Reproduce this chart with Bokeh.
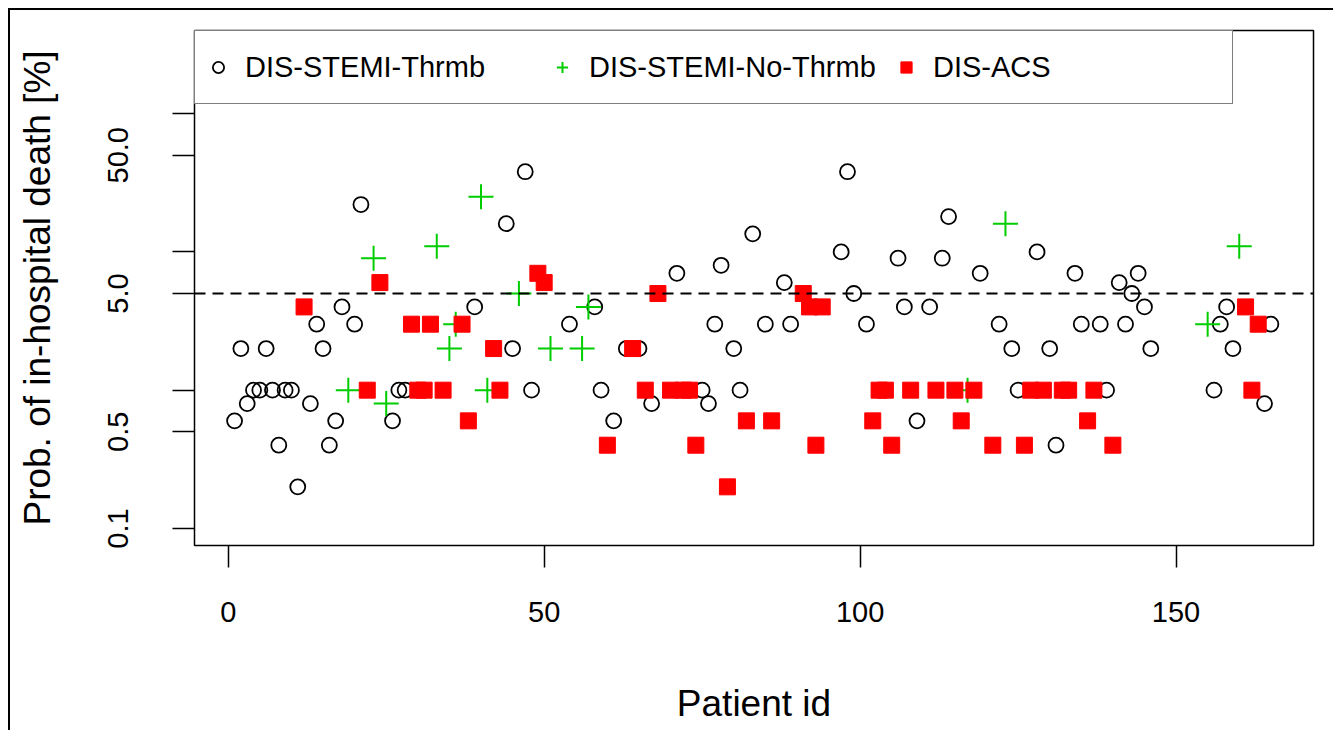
from bokeh.plotting import figure
from bokeh.models import FixedTicker, Span, Legend, LegendItem, Range1d
from bokeh.embed import file_html
from bokeh.resources import INLINE

# DIS-STEMI-Thrmb (open circles)
thr_id = [1, 2, 3, 4, 5, 6, 7, 8, 9, 10, 11, 13, 14, 15, 16, 17, 18, 20, 21, 26, 27, 28,
          39, 44, 45, 47, 48, 54, 58, 59, 61, 63, 65, 67, 71, 75, 76, 77, 78, 80, 81, 83,
          85, 88, 89, 97, 98, 99, 101, 106, 107, 109, 111, 113, 114, 119, 122, 124, 125,
          128, 130, 131, 134, 135, 138, 139, 141, 142, 143, 144, 145, 146, 156, 157, 158,
          159, 164, 165]
thr_val = [0.6, 2, 0.8, 1, 1, 2, 1, 0.4, 1, 1, 0.2, 0.8, 3, 2, 0.4, 0.6, 4, 3, 22, 0.6, 1, 1,
           4, 16, 2, 38, 1, 3, 4, 1, 0.6, 2, 2, 0.8, 7, 1, 0.8, 3, 8, 2, 1, 13.5,
           3, 6, 3, 10, 38, 5, 3, 9, 4, 0.6, 4, 9, 18, 7, 3, 2, 1,
           10, 2, 0.4, 7, 3, 3, 1, 6, 3, 5, 7, 4, 2, 1, 3, 4,
           2, 0.8, 3]

# DIS-STEMI-No-Thrmb (green crosses)
nothr_id = [19, 23, 25, 33, 35, 36, 40, 41, 46, 51, 56, 57, 117, 123, 155, 160]
nothr_val = [1, 9, 0.8, 11, 2, 3, 25, 1, 5, 2, 2, 4, 1, 16, 3, 11]

# DIS-ACS (red squares)
acs_id = [12, 22, 24, 29, 30, 31, 32, 34, 37, 38, 42, 43, 49, 50, 60, 64, 66, 68, 70, 72,
          73, 74, 79, 82, 86, 91, 92, 93, 94, 102, 103, 104, 105, 108, 112, 115, 116, 118,
          121, 126, 127, 129, 132, 133, 136, 137, 140, 161, 162, 163]
acs_val = [4, 1, 6, 3, 1, 1, 3, 1, 3, 0.6, 2, 1, 7, 6, 0.4, 2, 1, 5, 1, 1,
           1, 0.4, 0.2, 0.6, 0.6, 5, 4, 0.4, 4, 0.6, 1, 1, 0.4, 1, 1, 1, 0.6, 1,
           0.4, 0.4, 1, 1, 1, 1, 0.6, 1, 0.4, 4, 1, 3]

x_ticks = [0, 50, 100, 150]
y_ticks = [0.1, 0.5, 1, 5, 10, 50, 100]
y_labels = {0.1: "0.1", 0.5: "0.5", 1: "", 5: "5.0", 10: "", 50: "50.0", 100: ""}
threshold = 5

FONT = "Liberation Sans"

p = figure(width=1325, height=722, y_axis_type="log",
           x_range=Range1d(-5.34, 171.75), y_range=Range1d(0.0753, 399),
           output_backend="svg", toolbar_location=None,
           min_border_left=184, min_border_right=22, min_border_top=20, min_border_bottom=187,
           background_fill_color="white", border_fill_color="white")
p.styles = {"border-left": "2px solid black", "border-top": "2px solid black",
            "margin-left": "8px", "margin-top": "8px"}

p.grid.visible = False
p.outline_line_color = "black"
p.outline_line_width = 1.5

for ax in (p.xaxis[0], p.yaxis[0]):
    ax.axis_line_color = None
    ax.major_tick_line_color = "black"
    ax.major_tick_line_width = 1.5
    ax.major_tick_out = 22
    ax.major_tick_in = 0
    ax.minor_tick_line_color = None
    ax.major_label_text_font = FONT
    ax.major_label_text_color = "black"
    ax.axis_label_text_font = FONT
    ax.axis_label_text_font_size = "37px"
    ax.axis_label_text_font_style = "normal"
    ax.axis_label_text_color = "black"

p.xaxis.ticker = FixedTicker(ticks=x_ticks)
p.xaxis.major_label_text_font_size = "29px"
p.xaxis.major_label_standoff = 34
p.xaxis.axis_label = "Patient id"
p.xaxis.axis_label_standoff = 58

p.yaxis.ticker = FixedTicker(ticks=y_ticks)
p.yaxis.major_label_overrides = y_labels
p.yaxis.major_label_orientation = "vertical"
p.yaxis.major_label_text_font_size = "29px"
p.yaxis.major_label_standoff = 44
p.yaxis.axis_label = "Prob. of in-hospital death [%]"
p.yaxis.axis_label_standoff = 48

p.add_layout(Span(location=threshold, dimension="width", line_color="black",
                  line_width=2, line_dash="11 7"))

r1 = p.scatter(thr_id, thr_val, marker="circle", size=15, fill_color=None,
               line_color="black", line_width=1.8)
r2 = p.scatter(nothr_id, nothr_val, marker="cross", size=25,
               line_color="#00CD00", line_width=2)
r3 = p.scatter(acs_id, acs_val, marker="square", size=16, fill_color="red",
               line_color="red", line_width=1)

legend = Legend(items=[LegendItem(label="DIS-STEMI-Thrmb", renderers=[r1]),
                       LegendItem(label="DIS-STEMI-No-Thrmb", renderers=[r2]),
                       LegendItem(label="DIS-ACS", renderers=[r3])],
                location="top_left", orientation="horizontal",
                margin=0, padding=9, spacing=13,
                glyph_width=28, glyph_height=54, label_standoff=13, label_width=290,
                label_text_font=FONT, label_text_font_size="29px", label_text_color="black",
                border_line_color="black", border_line_width=1.5,
                background_fill_color="white", background_fill_alpha=1.0)
p.add_layout(legend, "center")

open("out.html", "w").write(file_html(p, INLINE))
